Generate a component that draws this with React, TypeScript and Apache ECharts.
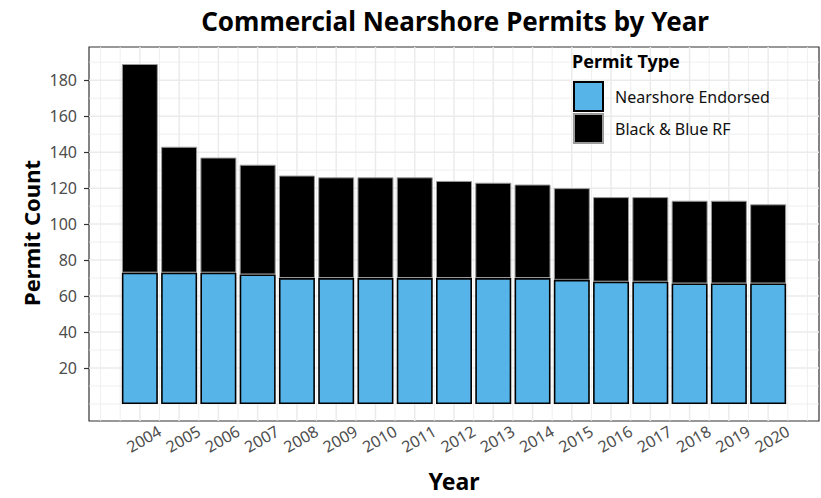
import React, { useEffect, useRef } from "react";
import * as echarts from "echarts";

// ---- Data ----
const years = [2004, 2005, 2006, 2007, 2008, 2009, 2010, 2011, 2012, 2013, 2014, 2015, 2016, 2017, 2018, 2019, 2020];
const nearshoreEndorsed = [73, 73, 73, 72, 70, 70, 70, 70, 70, 70, 70, 69, 68, 68, 67, 67, 67];
const blackBlueRF = [116, 70, 64, 61, 57, 56, 56, 56, 54, 53, 52, 51, 47, 47, 46, 46, 44];
const yTickLabels = [20, 40, 60, 80, 100, 120, 140, 160, 180];
const yMinorBreaks = [0, 10, 30, 50, 70, 90, 110, 130, 150, 170, 190];
const seriesNames = ["Nearshore Endorsed", "Black & Blue RF"];

const TITLE = "Commercial Nearshore Permits by Year";
const LEGEND_TITLE = "Permit Type";
const X_TITLE = "Year";
const Y_TITLE = "Permit Count";

// axis extents (ggplot-style 5% expansion)
const X_MIN = 2002.705;
const X_MAX = 2021.295;
const Y_MIN = -9.45;
const Y_MAX = 198.45;

const FONT = "'Noto Sans', 'Open Sans', sans-serif";

export default function App() {
  const ref = useRef<HTMLDivElement>(null);

  useEffect(() => {
    if (!ref.current) return;
    const chart = echarts.init(ref.current, undefined, { renderer: "svg" });

    const xMinor = [years[0] - 1, ...years.map((y) => y - 0.5), years[years.length - 1] + 0.5, years[years.length - 1] + 1];
    const gridData: number[][] = [];
    years.forEach((v) => gridData.push([0, v, 0, 1]));
    xMinor.forEach((v) => gridData.push([0, v, 0, 0]));
    yTickLabels.forEach((v) => gridData.push([v, 2010, 1, 1]));
    yMinorBreaks.forEach((v) => gridData.push([v, 2010, 1, 0]));

    const option: any = {
      animation: false,
      backgroundColor: "#ffffff",
      textStyle: { fontFamily: FONT },
      grid: {
        left: 89,
        right: 2,
        top: 47,
        bottom: 77,
        show: true,
        backgroundColor: "#ffffff",
        borderColor: "#333333",
        borderWidth: 1.2,
        z: 3,
      },
      xAxis: {
        type: "value",
        min: X_MIN,
        max: X_MAX,
        axisLine: { show: false },
        splitLine: { show: false },
        axisTick: { show: true, length: 5, customValues: years, lineStyle: { color: "#333333", width: 1.2 } },
        axisLabel: {
          customValues: years,
          rotate: 30,
          align: "center",
          verticalAlign: "top",
          margin: 11,
          fontSize: 16,
          color: "#4d4d4d",
          fontFamily: FONT,
          formatter: (v: number) => String(Math.round(v)),
        },
      },
      yAxis: {
        type: "value",
        min: Y_MIN,
        max: Y_MAX,
        axisLine: { show: false },
        splitLine: { show: false },
        axisTick: { show: true, length: 5, customValues: yTickLabels, lineStyle: { color: "#333333", width: 1.2 } },
        axisLabel: {
          customValues: yTickLabels,
          margin: 12,
          fontSize: 16,
          color: "#4d4d4d",
          fontFamily: FONT,
          formatter: (v: number) => String(Math.round(v)),
        },
      },
      legend: {
        data: seriesNames,
        orient: "vertical",
        left: 573,
        top: 81,
        padding: 0,
        z: 20,
        itemWidth: 29,
        itemHeight: 29,
        itemGap: 1,
        icon: "rect",
        textStyle: { fontSize: 16, color: "#111111", fontFamily: FONT, padding: [0, 0, 0, 7] },
      },
      graphic: [
        {
          type: "text",
          z: 100,
          x: 455,
          y: 21,
          style: { text: TITLE, font: `bold 26px ${FONT}`, fill: "#000", textAlign: "center", textVerticalAlign: "middle" },
        },
        {
          type: "text",
          z: 100,
          x: 572,
          y: 61,
          style: { text: LEGEND_TITLE, font: `bold 18px ${FONT}`, fill: "#000", textAlign: "left", textVerticalAlign: "middle" },
        },
        {
          type: "text",
          z: 100,
          x: 454,
          y: 481,
          style: { text: X_TITLE, font: `bold 23px ${FONT}`, fill: "#000", textAlign: "center", textVerticalAlign: "middle" },
        },
        {
          type: "text",
          z: 100,
          x: 31,
          y: 233,
          rotation: Math.PI / 2,
          style: { text: Y_TITLE, font: `bold 22px ${FONT}`, fill: "#000", textAlign: "center", textVerticalAlign: "middle" },
        },
      ],
      series: [
        {
          type: "custom",
          name: "grid",
          silent: true,
          z: 4,
          data: gridData,
          encode: { x: 1, y: 0 },
          renderItem: (params: any, api: any) => {
            const yv = api.value(0);
            const xv = api.value(1);
            const horiz = api.value(2) === 1;
            const major = api.value(3) === 1;
            const p1 = horiz ? api.coord([X_MIN, yv]) : api.coord([xv, Y_MIN]);
            const p2 = horiz ? api.coord([X_MAX, yv]) : api.coord([xv, Y_MAX]);
            return {
              type: "line",
              shape: { x1: p1[0], y1: p1[1], x2: p2[0], y2: p2[1] },
              style: { stroke: "#ebebeb", lineWidth: major ? 1.5 : 0.8 },
              silent: true,
            };
          },
        },
        {
          type: "bar",
          name: seriesNames[0],
          stack: "total",
          barWidth: 36,
          z: 6,
          encode: { x: 1, y: 0 },
          data: years.map((y, i) => [nearshoreEndorsed[i], y]),
          itemStyle: { color: "#56B4E9", borderColor: "#000000", borderWidth: 1.6 },
        },
        {
          type: "bar",
          name: seriesNames[1],
          stack: "total",
          barWidth: 36,
          z: 5,
          encode: { x: 1, y: 0 },
          data: years.map((y, i) => [blackBlueRF[i], y]),
          itemStyle: { color: "#000000", borderColor: "#9a9a9a", borderWidth: 1 },
        },
      ],
    };

    chart.setOption(option);
    return () => chart.dispose();
  }, []);

  return <div ref={ref} style={{ position: "fixed", left: 0, top: 0, width: 821, height: 498 }} />;
}
